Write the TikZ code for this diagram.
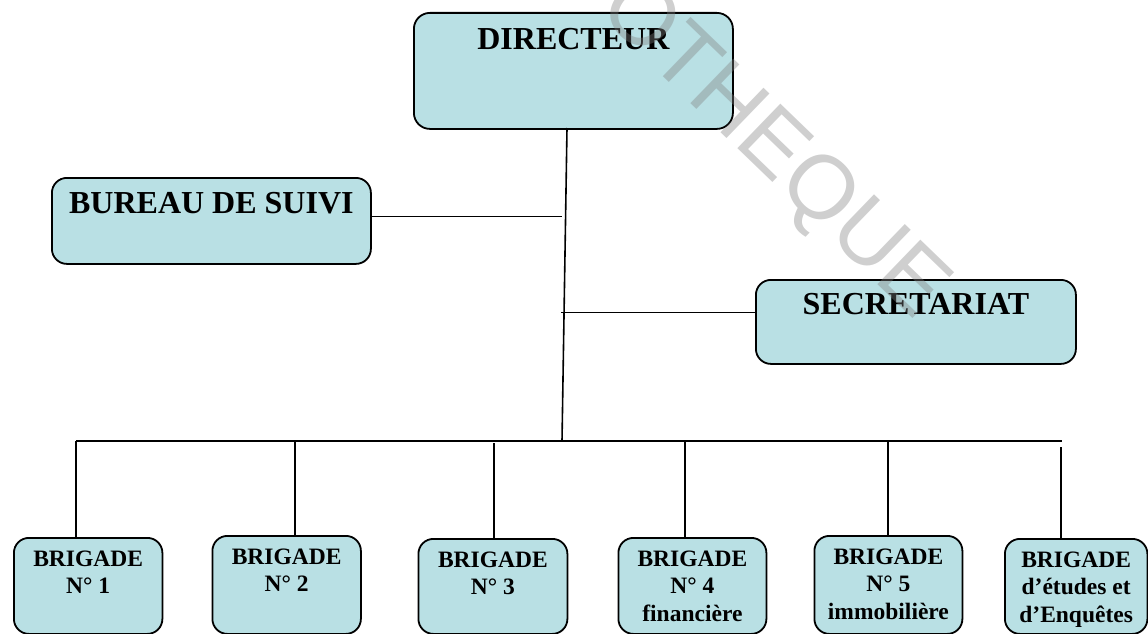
\documentclass[tikz,border=0pt]{standalone}
\usepackage{fontspec}
\setmainfont{Liberation Serif}
\newfontfamily\wmfont{Liberation Sans}
\definecolor{boxblue}{RGB}{185,224,228}
\newcommand\orgtxt[4]{\parbox[c][#2][t]{#1}{\centering\rule{0pt}{#3}#4\par}}
\tikzset{
  orgbox/.style={draw=black, line width=1.8pt, fill=boxblue, rounded corners=16pt,
    inner sep=0pt, anchor=north west, font=\bfseries},
  brbox/.style={orgbox, rounded corners=15pt},
  link/.style={draw=black, line width=1.6pt},
  wm/.style={font=\wmfont, text=black!50, text opacity=0.38, inner sep=0pt}
}
\begin{document}
\begin{tikzpicture}[x=1pt, y=-1pt]
\useasboundingbox (0,0) rectangle (1148,634);
\clip (0,0) rectangle (1148,634);
% top boxes
\node[orgbox] (dir) at (413,12) {\fontsize{32}{36}\selectfont\orgtxt{319pt}{116pt}{36.3pt}{DIRECTEUR}};
\node[orgbox, rounded corners=15pt] (bur) at (51,177) {\fontsize{32}{36}\selectfont\orgtxt{319pt}{86pt}{36pt}{BUREAU DE SUIVI}};
\node[orgbox, rounded corners=15pt] (sec) at (755,279) {\fontsize{32}{36}\selectfont\orgtxt{320pt}{84pt}{35pt}{SECRETARIAT}};
% brigades
\node[brbox] (b1) at (13,537) {\fontsize{23.5}{27.5}\selectfont\orgtxt{148.5pt}{96pt}{28.5pt}{BRIGADE\\N° 1}};
\node[brbox] (b2) at (211.5,535) {\fontsize{23.5}{27.5}\selectfont\orgtxt{148.5pt}{98pt}{28.5pt}{BRIGADE\\N° 2}};
\node[brbox] (b3) at (417.5,538) {\fontsize{23.5}{27.5}\selectfont\orgtxt{149pt}{95pt}{28.5pt}{BRIGADE\\N° 3}};
\node[brbox] (b4) at (617.5,537) {\fontsize{23.5}{27.5}\selectfont\orgtxt{148pt}{96pt}{28.5pt}{BRIGADE\\N° 4\\financière}};
\node[brbox] (b5) at (813.5,535) {\fontsize{23.5}{27.5}\selectfont\orgtxt{148pt}{98pt}{28.5pt}{BRIGADE\\N° 5\\immobilière}};
\node[brbox] (b6) at (1004,538) {\fontsize{23.5}{27.5}\selectfont\orgtxt{142.5pt}{95pt}{28.5pt}{BRIGADE\\d’études et\\d’Enquêtes}};
% trunk and junctions
\coordinate (trtop) at (567,128);
\coordinate (trbot) at (562,441);
\coordinate (j1) at (561.5,216.5);
\coordinate (j2) at (561,312.3);
\draw[link] (trtop) -- (trbot);
\draw[link] (bur.east |- j1) -- (j1);
\draw[link] (j2) -- (sec.west |- j2);
% bus
\coordinate (busL) at (76,441);
\coordinate (busR) at (1062,441);
\draw[link] (busL) -- (busR);
\coordinate (v1) at (76,441);
\coordinate (v2) at (295,441);
\coordinate (v3) at (494,443);
\coordinate (v4) at (685,441);
\coordinate (v5) at (888,441);
\coordinate (v6) at (1061,447);
\draw[link] (v1) -- (v1 |- b1.north);
\draw[link] (v2) -- (v2 |- b2.north);
\draw[link] (v3) -- (v3 |- b3.north);
\draw[link] (v4) -- (v4 |- b4.north);
\draw[link] (v5) -- (v5 |- b5.north);
\draw[link] (v6) -- (v6 |- b6.north);
% watermark
\node[wm, rotate=-44] (wmark) at (772,150) {\fontsize{90}{90}\selectfont OTHEQUE};
\end{tikzpicture}
\end{document}
